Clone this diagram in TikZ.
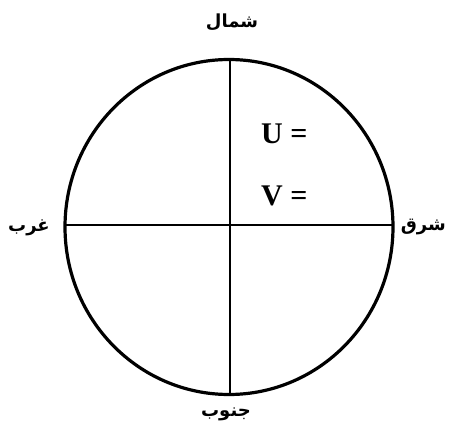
\documentclass[tikz,border=0pt]{standalone}
\usepackage{fontspec}
\setmainfont{Liberation Serif}
\newfontfamily\arabicfont[Script=Arabic]{DejaVu Sans}
\TeXXeTstate=1
\begin{document}
\begin{tikzpicture}[x=1pt,y=-1pt,
  ring/.style={line width=3.2pt},
  axis/.style={line width=2.8pt},
  dirlabel/.style={font=\arabicfont\bfseries\fontsize{18}{18}\selectfont, inner sep=0pt},
  eqlabel/.style={font=\bfseries\fontsize{30}{30}\selectfont, inner sep=0pt, anchor=west}]
\useasboundingbox (0,0) rectangle (451,425);
\coordinate (c) at (229,227);
\draw[ring] (c) ellipse [x radius=164, y radius=167.5];
\coordinate (n) at (230,59.5);
\coordinate (s) at (230,394.5);
\coordinate (w) at (65,225);
\coordinate (e) at (393,225);
\draw[axis] (n) -- (s);
\draw[axis] (w) -- (e);
\node[dirlabel] (north) at (232,22) {\beginR شمال\endR};
\node[dirlabel] (south) at (226,414) {\beginR جنوب\endR};
\node[dirlabel, anchor=west] (west) at (8,228) {\beginR غرب\endR};
\node[dirlabel, anchor=east] (east) at (446,227) {\beginR شرق\endR};
\node[eqlabel] (u) at (261,134) {U =};
\node[eqlabel] (v) at (261,196) {V =};
\end{tikzpicture}
\end{document}
